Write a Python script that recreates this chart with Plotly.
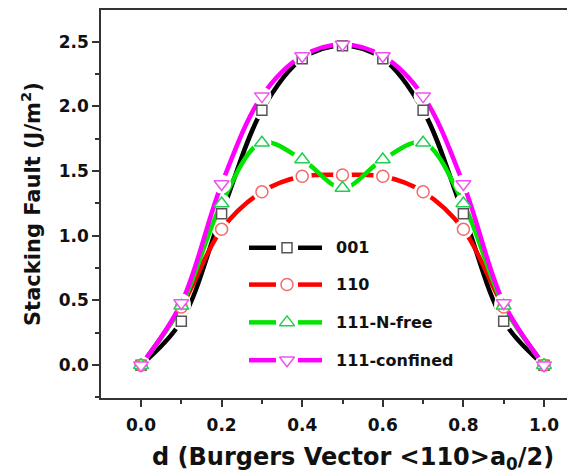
import plotly.graph_objects as go

# ---------------- data ----------------
d = [0.0, 0.1, 0.2, 0.3, 0.4, 0.5, 0.6, 0.7, 0.8, 0.9, 1.0]
sf_001 = [0.0, 0.34, 1.17, 1.97, 2.37, 2.47, 2.37, 1.97, 1.17, 0.34, 0.0]
sf_110 = [0.0, 0.45, 1.05, 1.34, 1.46, 1.47, 1.46, 1.34, 1.05, 0.45, 0.0]
sf_111_free = [0.0, 0.46, 1.25, 1.72, 1.59, 1.37, 1.59, 1.72, 1.25, 0.46, 0.0]
sf_111_conf = [0.0, 0.48, 1.40, 2.08, 2.39, 2.48, 2.39, 2.08, 1.40, 0.48, 0.0]
names = ["001", "110", "111-N-free", "111-confined"]
x_ticks = [0.0, 0.2, 0.4, 0.6, 0.8, 1.0]
y_ticks = [0.0, 0.5, 1.0, 1.5, 2.0, 2.5]

series = [sf_001, sf_110, sf_111_free, sf_111_conf]
line_colors = ["#000000", "#ff0000", "#00e400", "#ff00ff"]
mark_colors = ["#555555", "#f26b6b", "#22cc55", "#ee55ee"]
symbols = ["square", "circle", "triangle-up", "triangle-down"]
msizes = [10, 12, 13, 13]

# ---------------- layout geometry (page has an 8px body margin) ----------------
OFF = 8
W, H = 575 - OFF, 476 - OFF
PL, PT, PR, PB = 101, 8, 575, 398          # plot box in page pixels
L, T, R, B = PL - OFF, PT - OFF, 0, (H + OFF) - PB
XR = [-0.0993, 1.0769]
YR = [-0.254, 2.746]
FONT = "DejaVu Sans"


def px2x(px):
    return XR[0] + (px - PL) / (PR - PL) * (XR[1] - XR[0])


def py2y(py):
    return YR[1] - (py - PT) / (PB - PT) * (YR[1] - YR[0])


fig = go.Figure()

# lines with gaps near symbols
for s, lc in zip(series, line_colors):
    fig.add_trace(go.Scatter(x=d, y=s, mode="lines",
                             line=dict(color=lc, width=4.5, shape="spline", smoothing=1),
                             showlegend=False, hoverinfo="skip"))
    fig.add_trace(go.Scatter(x=d, y=s, mode="markers",
                             marker=dict(symbol="circle", size=19, color="white", line=dict(width=0)),
                             showlegend=False, hoverinfo="skip"))

# symbols
for s, mc, sym, ms, nm in zip(series, mark_colors, symbols, msizes, names):
    fig.add_trace(go.Scatter(x=d, y=s, mode="markers", name=nm,
                             marker=dict(symbol=sym, size=ms, color="white",
                                         line=dict(color=mc, width=1.5)),
                             showlegend=False))

# manual legend
leg_rows = [247, 284, 322, 360]
shapes = []
annotations = []
for py, lc, mc, sym, ms, nm in zip(leg_rows, line_colors, mark_colors, symbols, msizes, names):
    yv = py2y(py)
    for a, b in [(249, 276), (298, 322)]:
        shapes.append(dict(type="line", xref="x", yref="y", x0=px2x(a), x1=px2x(b), y0=yv, y1=yv,
                           line=dict(color=lc, width=4.5)))
    fig.add_trace(go.Scatter(x=[px2x(287)], y=[yv], mode="markers",
                             marker=dict(symbol=sym, size=ms, color="white", line=dict(color=mc, width=1.5)),
                             showlegend=False, hoverinfo="skip"))
    annotations.append(dict(x=px2x(334), y=yv, xref="x", yref="y", text=nm, showarrow=False,
                            xanchor="left", yanchor="middle",
                            font=dict(family=FONT, size=16, color="#111111", weight="bold")))

# axis titles
annotations.append(dict(x=0, y=0.5, xref="paper", yref="paper", xshift=31 - PL, textangle=-90,
                        text="Stacking Fault (J/m<sup>2</sup>)", showarrow=False,
                        xanchor="center", yanchor="middle",
                        font=dict(family=FONT, size=21, color="#111111", weight="bold")))
annotations.append(dict(x=px2x(353), y=0, xref="x", yref="paper", yshift=-(458 - PB),
                        text="d (Burgers Vector &lt;110&gt;a<sub>0</sub>/2)", showarrow=False,
                        xanchor="center", yanchor="middle",
                        font=dict(family=FONT, size=24, color="#111111", weight="bold")))

fig.update_layout(
    width=W, height=H,
    margin=dict(l=L, r=R, t=T, b=B, pad=0),
    paper_bgcolor="white", plot_bgcolor="white",
    font=dict(family=FONT, color="#111111"),
    shapes=shapes, annotations=annotations,
    showlegend=False,
    xaxis=dict(range=XR, tickvals=x_ticks, ticktext=[f"{v:.1f}" for v in x_ticks],
               ticks="outside", ticklen=7, tickwidth=1.5, tickcolor="#333333",
               showline=True, linecolor="#333333", linewidth=1.5, mirror=True,
               showgrid=False, zeroline=False, ticklabelstandoff=4,
               tickfont=dict(family=FONT, size=17, color="#111111", weight="bold"),
               minor=dict(dtick=0.1, tick0=0, ticks="outside", ticklen=4, tickwidth=1.5,
                          tickcolor="#333333", showgrid=False)),
    yaxis=dict(range=YR, tickvals=y_ticks, ticktext=[f"{v:.1f}" for v in y_ticks],
               ticks="outside", ticklen=7, tickwidth=1.5, tickcolor="#333333",
               showline=True, linecolor="#333333", linewidth=1.5, mirror=False,
               showgrid=False, zeroline=False,
               tickfont=dict(family=FONT, size=17, color="#111111", weight="bold"),
               minor=dict(dtick=0.25, tick0=0, ticks="outside", ticklen=4, tickwidth=1.5,
                          tickcolor="#333333", showgrid=False)),
)

fig.write_html("out.html")
